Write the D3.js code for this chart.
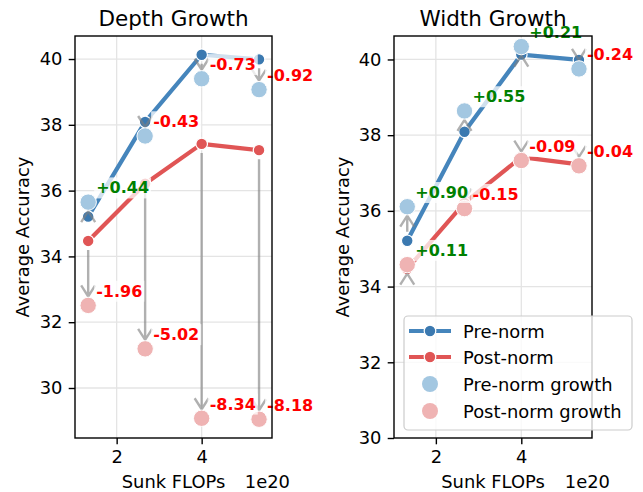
<!DOCTYPE html>
<html>
<head>
<meta charset="utf-8">
<script src="https://cdn.jsdelivr.net/npm/d3@7"></script>
<style>
  html, body { margin: 0; padding: 0; background: #fff; }
  svg { display: block; font-family: "DejaVu Sans", sans-serif; }
</style>
</head>
<body>
<svg id="chart" width="643" height="492"></svg>
<script>
// Sunk FLOPs (in units of 1e20) for the four model checkpoints
const flops = [1.33, 2.67, 4.0, 5.35];

// Baseline average accuracy for both normalisation variants
const preNorm = [35.21, 38.09, 40.13, 39.99];
const postNorm = [34.47, 36.21, 37.42, 37.23];

// Accuracy change after growing the model (depth / width)
const depthPreDelta = [0.44, -0.43, -0.73, -0.92];
const depthPostDelta = [-1.96, -5.02, -8.34, -8.18];
const widthPreDelta = [0.90, 0.55, 0.21, -0.24];
const widthPostDelta = [0.11, -0.15, -0.09, -0.04];

// Axis ticks
const xTicks = [2, 4];
const yTicks = [30, 32, 34, 36, 38, 40];

const legendLabels = ["Pre-norm", "Post-norm", "Pre-norm growth", "Post-norm growth"];

const colors = {
  pre: "#4585bc",
  preDot: "#3b79b0",
  post: "#e05555",
  preGrowth: "#a3c7e1",
  postGrowth: "#efb3b3",
  arrow: "#7f7f7f",
  grid: "#e4e4e4"
};

const svg = d3.select("#chart");
const FS = 17.9;

function drawPanel(cfg) {
  const x = d3.scaleLinear().domain([1.02, 5.655]).range([cfg.left, cfg.right]);
  const y = d3.scaleLinear().domain(cfg.yDomain).range([cfg.bottom, cfg.top]);
  const g = svg.append("g");

  // grid
  g.append("g").selectAll("line.gy").data(yTicks.filter(t => t > cfg.yDomain[0] && t < cfg.yDomain[1]))
    .join("line")
    .attr("x1", cfg.left).attr("x2", cfg.right)
    .attr("y1", d => y(d)).attr("y2", d => y(d))
    .attr("stroke", colors.grid).attr("stroke-width", 1.3);
  g.append("g").selectAll("line.gx").data(xTicks)
    .join("line")
    .attr("x1", d => x(d)).attr("x2", d => x(d))
    .attr("y1", cfg.top).attr("y2", cfg.bottom)
    .attr("stroke", colors.grid).attr("stroke-width", 1.3);

  const preGrowth = preNorm.map((v, i) => v + cfg.preDelta[i]);
  const postGrowth = postNorm.map((v, i) => v + cfg.postDelta[i]);

  const line = d3.line().x((d, i) => x(flops[i])).y(d => y(d));

  // baseline lines with markers
  [[postNorm, colors.post, colors.post], [preNorm, colors.pre, colors.preDot]].forEach(([vals, c, dc]) => {
    g.append("path").datum(vals).attr("d", line)
      .attr("fill", "none").attr("stroke", c).attr("stroke-width", 4.2)
      .attr("stroke-linejoin", "round");
    g.append("g").selectAll("circle").data(vals).join("circle")
      .attr("cx", (d, i) => x(flops[i])).attr("cy", d => y(d)).attr("r", 5.8)
      .attr("fill", dc).attr("stroke", "#fff").attr("stroke-width", 1.2);
  });

  // arrows from baseline to grown model
  const shrink = 9, headLen = 11, headHalf = 7;
  const arrows = [];
  preNorm.forEach((v, i) => arrows.push([i, v, preGrowth[i]]));
  postNorm.forEach((v, i) => arrows.push([i, v, postGrowth[i]]));
  g.append("g").selectAll("path").data(arrows).join("path")
    .attr("d", ([i, a, b]) => {
      const px = x(flops[i]);
      const ya = y(a), yb = y(b);
      const dir = yb > ya ? 1 : -1;
      const tip = yb - dir * shrink;
      const start = ya + dir * shrink;
      let p = "";
      if ((tip - start) * dir > 0) p += `M${px},${start}L${px},${tip}`;
      p += `M${px - headHalf},${tip - dir * headLen}L${px},${tip}L${px + headHalf},${tip - dir * headLen}`;
      return p;
    })
    .attr("fill", "none").attr("stroke", colors.arrow).attr("stroke-opacity", 0.62)
    .attr("stroke-width", 2.4);

  // grown model markers
  [[preGrowth, colors.preGrowth], [postGrowth, colors.postGrowth]].forEach(([vals, c]) => {
    g.append("g").selectAll("circle").data(vals).join("circle")
      .attr("cx", (d, i) => x(flops[i])).attr("cy", d => y(d)).attr("r", 8.2)
      .attr("fill", c).attr("stroke", "#fff").attr("stroke-width", 1);
  });

  // delta labels
  const labels = [];
  cfg.preDelta.forEach((d, i) => labels.push([i, preGrowth[i], d]));
  cfg.postDelta.forEach((d, i) => labels.push([i, postGrowth[i], d]));
  labels.forEach(([i, v, d]) => {
    const lg = g.append("g");
    const t = lg.append("text")
      .attr("x", x(flops[i]) + 8).attr("y", y(v) - 14.5 + 5.8)
      .attr("font-size", 16).attr("font-weight", "bold")
      .attr("fill", d > 0 ? "#008000" : "#ff0000")
      .text((d > 0 ? "+" : "") + d.toFixed(2));
    const bb = t.node().getBBox();
    lg.insert("rect", "text")
      .attr("x", bb.x - 2).attr("y", bb.y - 1).attr("width", bb.width + 4).attr("height", bb.height + 2)
      .attr("fill", "#fff").attr("fill-opacity", 0.75);
  });

  // axes
  const ax = g.append("g").attr("transform", `translate(0,${cfg.bottom})`)
    .call(d3.axisBottom(x).tickValues(xTicks).tickSize(6.3).tickPadding(6.3).tickFormat(d3.format("d")));
  const ay = g.append("g").attr("transform", `translate(${cfg.left},0)`)
    .call(d3.axisLeft(y).tickValues(yTicks.filter(t => t >= cfg.yDomain[0])).tickSize(6.3).tickPadding(6.3).tickFormat(d3.format("d")));
  [ax, ay].forEach(a => {
    a.select(".domain").remove();
    a.selectAll("line").attr("stroke", "#000").attr("stroke-width", 1.4);
    a.selectAll("text").attr("font-size", FS).attr("font-family", "DejaVu Sans").attr("fill", "#000");
  });

  g.append("rect")
    .attr("x", cfg.left).attr("y", cfg.top)
    .attr("width", cfg.right - cfg.left).attr("height", cfg.bottom - cfg.top)
    .attr("fill", "none").attr("stroke", "#000").attr("stroke-width", 1.4);

  // titles and axis labels
  const cx = (cfg.left + cfg.right) / 2;
  g.append("text").attr("x", cx).attr("y", 26).attr("text-anchor", "middle")
    .attr("font-size", 21.5).text(cfg.title);
  g.append("text").attr("x", cx).attr("y", 488).attr("text-anchor", "middle")
    .attr("font-size", FS).text("Sunk FLOPs");
  g.append("text").attr("x", cfg.right + 18).attr("y", 488).attr("text-anchor", "end")
    .attr("font-size", FS).text("1e20");
  g.append("text")
    .attr("transform", `translate(${cfg.ylabelX},${(cfg.top + cfg.bottom) / 2}) rotate(-90)`)
    .attr("text-anchor", "middle").attr("font-size", FS).text("Average Accuracy");

  return { x, y, g };
}

drawPanel({
  title: "Depth Growth", left: 75, right: 272, top: 36, bottom: 438,
  yDomain: [28.48, 40.70], preDelta: depthPreDelta, postDelta: depthPostDelta, ylabelX: 28.5
});

drawPanel({
  title: "Width Growth", left: 394, right: 592, top: 36, bottom: 438,
  yDomain: [30, 40.62], preDelta: widthPreDelta, postDelta: widthPostDelta, ylabelX: 348.5
});

// legend
const lg = svg.append("g");
lg.append("rect").attr("x", 404).attr("y", 316).attr("width", 228).attr("height", 114)
  .attr("rx", 4).attr("fill", "#fff").attr("fill-opacity", 0.8)
  .attr("stroke", "#cccccc").attr("stroke-width", 1.2);
const rowY = [331, 357, 384, 411];
legendLabels.forEach((lab, i) => {
  const yy = rowY[i];
  if (i < 2) {
    const c = i === 0 ? colors.pre : colors.post;
    lg.append("line").attr("x1", 409).attr("x2", 451).attr("y1", yy).attr("y2", yy)
      .attr("stroke", c).attr("stroke-width", 4.2);
    lg.append("circle").attr("cx", 430).attr("cy", yy).attr("r", 5.8)
      .attr("fill", i === 0 ? colors.preDot : colors.post).attr("stroke", "#fff").attr("stroke-width", 1.2);
  } else {
    lg.append("circle").attr("cx", 430).attr("cy", yy).attr("r", 8)
      .attr("fill", i === 2 ? colors.preGrowth : colors.postGrowth);
  }
  lg.append("text").attr("x", 463).attr("y", yy + 6.5).attr("font-size", FS).text(lab);
});
</script>
</body>
</html>
